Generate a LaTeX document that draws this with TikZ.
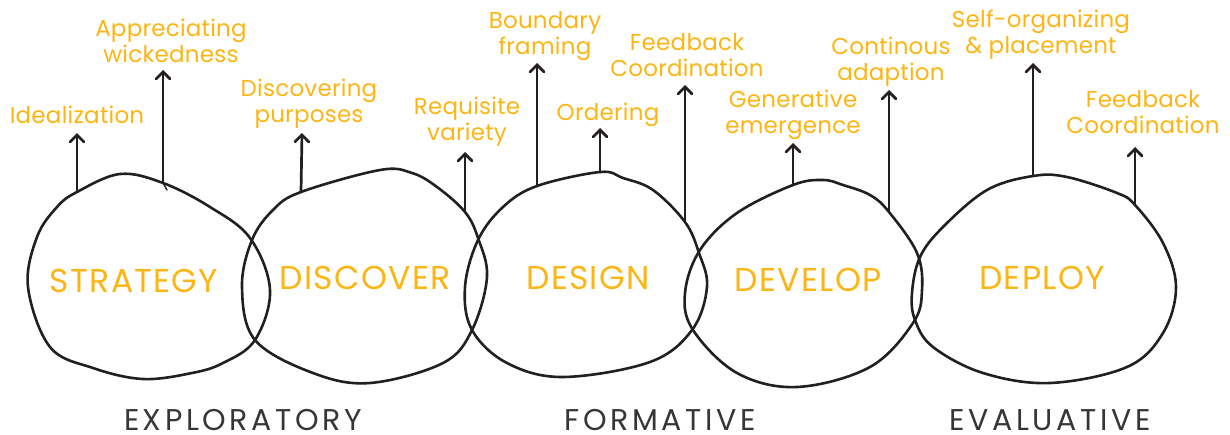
\documentclass[tikz,border=0pt]{standalone}
\usepackage{fontspec}
\setmainfont{Poppins}
\usetikzlibrary{arrows.meta}
\definecolor{amber}{RGB}{253,181,20}
\definecolor{ink}{RGB}{35,31,32}
\definecolor{phase}{RGB}{55,53,54}
\begin{document}
\begin{tikzpicture}[x=1pt,y=-1pt,
  blob/.style={draw=ink,line width=2.6pt,line join=round},
  arr/.style={draw=ink,line width=2.7pt,line cap=round,
    -{Straight Barb[length=7pt,width=14pt,line cap=round]}},
  tag/.style={text=amber,font=\fontsize{23}{26}\selectfont\addfontfeatures{LetterSpace=1},
    align=center,anchor=base,inner sep=0pt},
  stage/.style={text=amber,font=\fontsize{33}{36}\selectfont\addfontfeatures{LetterSpace=4},
    anchor=base,inner sep=0pt},
  mode/.style={text=phase,font=\fontsize{30}{33}\selectfont\addfontfeatures{LetterSpace=12},
    anchor=base,inner sep=0pt}]
\useasboundingbox (0,0) rectangle (1230,434);

% the five stage loops
\draw[blob] plot[smooth cycle,tension=0.6] coordinates {(77,192) (120,174) (163,183) (210,207) (250,238) (270,290) (255,340) (223,363) (192,373) (143,379) (93,368) (50,347) (28,287) (37,237) (57,207)};
\draw[blob] plot[smooth cycle,tension=0.6] coordinates {(301,192) (380,170) (412,173) (437,187) (465,212) (478,238) (487,277) (472,330) (443,363) (370,383) (313,373) (255,340) (242,287) (252,240) (273,210)};
\draw[blob] plot[smooth cycle,tension=0.6] coordinates {(537,186) (600,172) (623,178) (653,190) (685,222) (699,253) (707,287) (692,330) (650,362) (563,377) (507,363) (472,330) (465,287) (478,240) (503,207)};
\draw[blob] plot[smooth cycle,tension=0.6] coordinates {(793,185) (823,180) (843,185) (870,195) (889,212) (917,253) (922,290) (913,323) (870,367) (797,387) (737,373) (693,330) (685,293) (700,250) (737,213)};
\draw[blob] plot[smooth cycle,tension=0.6] coordinates {(912,293) (920,257) (943,227) (987,190) (1033,176) (1067,177) (1117,193) (1135,205) (1163,243) (1176,287) (1163,333) (1127,367) (1050,383) (983,373) (933,347) (915,320)};

% stage names
\node[stage] (strategy) at (134,292) {STRATEGY};
\node[stage] (discover) at (365,289) {DISCOVER};
\node[stage] (design)   at (588,289) {DESIGN};
\node[stage] (develop)  at (808,291) {DEVELOP};
\node[stage] (deploy)   at (1042,289) {DEPLOY};

% phase names
\node[mode] (exploratory) at (243,430) {EXPLORATORY};
\node[mode] (formative)   at (660,430) {FORMATIVE};
\node[mode] (evaluative)  at (1050,430) {EVALUATIVE};

% practice labels (placed by the baseline of their last line)
\node[tag] (ideal)   at (77,123)   {Idealization};
\node[tag] (wicked)  at (171,62)   {Appreciating\\wickedness};
\node[tag] (purpose) at (309,122)  {Discovering\\purposes};
\node[tag] (variety) at (467,140)  {Requisite\\variety};
\node[tag] (bound)   at (545,54)   {Boundary\\framing};
\node[tag] (order)   at (608,120)  {Ordering};
\node[tag] (fbdes)   at (687,76)   {Feedback\\Coordination};
\node[tag] (gener)   at (793,133)  {Generative\\emergence};
\node[tag] (adapt)   at (891,80)   {Continous\\adaption};
\node[tag] (selforg) at (1041,53)  {Self-organizing\\\& placement};
\node[tag] (fbdep)   at (1143,133) {Feedback\\Coordination};

% arrow feet on the loops and arrow tips under the labels
\coordinate (f1) at (77,192);   \coordinate (h1) at (77,133);
\coordinate (f2) at (163,183);  \coordinate (h2) at (163,70);
\coordinate (f3) at (301,192);  \coordinate (h3) at (302,133);
\coordinate (f4) at (465,212);  \coordinate (h4) at (465,152);
\coordinate (f5) at (537,186);  \coordinate (h5) at (537,63);
\coordinate (f6) at (600,172);  \coordinate (h6) at (600,128);
\coordinate (f7) at (685,222);  \coordinate (h7) at (685,85);
\coordinate (f8) at (793,185);  \coordinate (h8) at (793,143);
\coordinate (f9) at (889,212);  \coordinate (h9) at (889,90);
\coordinate (f10) at (1033,176); \coordinate (h10) at (1033,63);
\coordinate (f11) at (1135,205); \coordinate (h11) at (1135,147);

\foreach \i in {1,...,11} \draw[arr] (f\i) -- (h\i);

% small pen flick where the second arrow leaves the first loop
\draw[ink,line width=1.4pt,line cap=round] (f2) -- ++(4,7);
\end{tikzpicture}
\end{document}
